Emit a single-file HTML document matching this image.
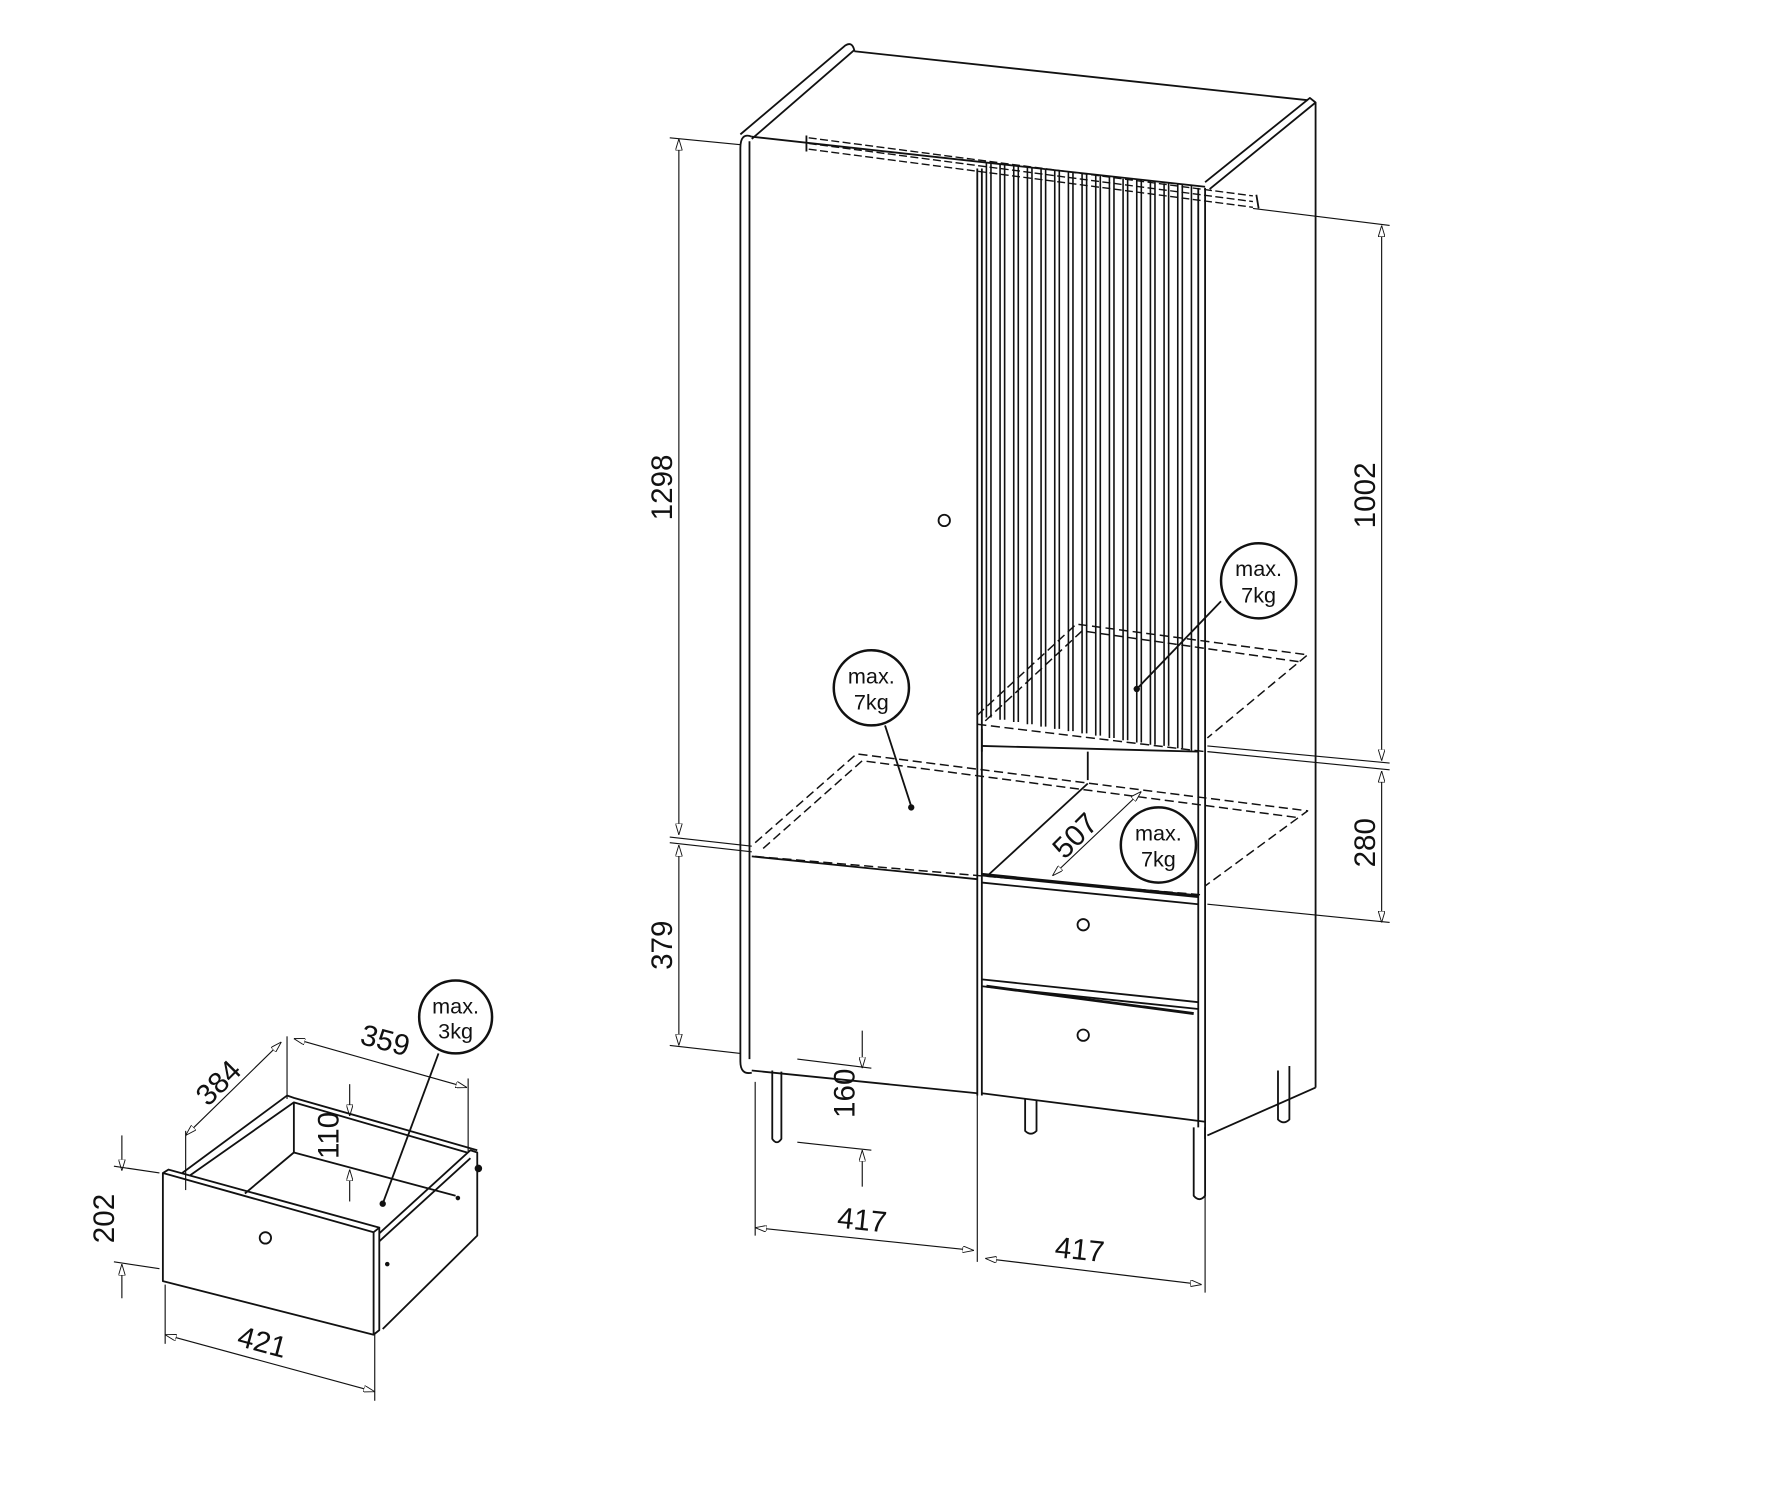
<!DOCTYPE html>
<html><head><meta charset="utf-8"><style>
html,body{margin:0;padding:0;background:#fff}
svg{display:block}
text{font-family:"Liberation Sans",sans-serif;fill:#111}
</style></head><body>
<svg width="1786" height="1493" viewBox="0 0 1568 1311" preserveAspectRatio="none" xmlns="http://www.w3.org/2000/svg">
<defs>
<marker id="a" viewBox="0 0 10 6" refX="10" refY="3" markerWidth="10" markerHeight="6" orient="auto-start-reverse" markerUnits="userSpaceOnUse"><path d="M0,0 L10,3 L0,6 Z" fill="#fff" stroke="#111" stroke-width="0.8"/></marker>
</defs>
<g stroke="#111" fill="none" stroke-width="1.6" stroke-linejoin="round">
<!-- top slab -->
<path d="M650,118 L742,40 Q748,36 750,44 L660,122"/>
<line x1="750" y1="45" x2="1148" y2="88"/>
<path d="M1058,160 L1150,86 L1155,90 L1062,166"/>
<line x1="1155" y1="90" x2="1155" y2="955"/>
<line x1="1155" y1="955" x2="1060" y2="997"/>
<!-- left side rounded panel -->
<path d="M660,120 Q650,116 650,130 L650,932 Q650,944 660,942"/>
<path d="M658,124 L658,930"/>
<!-- front -->
<line x1="660" y1="120" x2="1058" y2="164"/>
<line x1="858" y1="148" x2="858" y2="962"/>
<line x1="862" y1="148" x2="862" y2="962"/>
<line x1="1052" y1="165" x2="1052" y2="660"/>
<line x1="1058" y1="165" x2="1058" y2="1000"/>
<line x1="1052" y1="660" x2="1052" y2="990"/>
<line x1="660" y1="940" x2="858" y2="960"/>
<line x1="660" y1="752" x2="858" y2="772"/>
<line x1="862" y1="960" x2="1058" y2="985"/>
<line x1="862" y1="640" x2="862" y2="660"/>
<line x1="862" y1="655" x2="1052" y2="660"/>
<line x1="955" y1="660" x2="955" y2="685"/>
<!-- drawers -->
<line x1="862" y1="768" x2="1052" y2="787" stroke-width="3"/>
<line x1="862" y1="775" x2="1052" y2="794"/>
<line x1="862" y1="860" x2="1052" y2="880"/>
<line x1="862" y1="866" x2="1052" y2="886"/>
<line x1="866" y1="866" x2="1048" y2="890" stroke-width="2.5"/>
<!-- handles -->
<circle cx="829" cy="457" r="5"/><circle cx="951" cy="812" r="5"/><circle cx="951" cy="909" r="5"/><circle cx="233" cy="1087" r="5"/>
<!-- legs -->
<path d="M678,940 L678,1000 Q682,1006 686,1000 L686,941"/>
<path d="M900,965 L900,993 Q905,998 910,993 L910,966"/>
<path d="M1048,990 L1048,1050 Q1053,1056 1058,1050 L1058,990"/>
<path d="M1122,940 L1122,983 Q1127,988 1132,983 L1132,936"/>
<!-- rail -->
<g stroke-dasharray="7,3" stroke-width="1.2">
<line x1="710" y1="121" x2="1100" y2="172"/>
<line x1="710" y1="126" x2="1100" y2="177"/>
<line x1="710" y1="131" x2="1100" y2="182"/>
</g>
<path d="M708,119 L708,133 M1103,171 L1105,183"/>
<!-- slats -->
<g stroke-width="1.4">
<path d="M866,143V630M870,143V630M878,144V632M882,144V632M890,146V634M894,146V634M902,147V636M906,147V636M914,148V638M918,148V638M926,150V640M930,150V640M938,151V642M942,151V642M950,152V644M954,152V644M962,154V646M966,154V646M974,155V648M978,155V648M986,157V650M990,157V650M998,158V652M1002,158V652M1010,159V654M1014,159V654M1022,161V655M1026,161V655M1034,162V657M1038,162V657M1046,163V659"/>
</g>
<!-- shelves dashed -->
<g stroke-dasharray="8,4" stroke-width="1.3">
<path d="M663,740 L752,662 L1148,712 L1058,778"/>
<path d="M670,745 L757,668 L1140,718"/>
<line x1="663" y1="752" x2="1058" y2="786"/>
<path d="M858,628 L945,548 L1148,575 L1060,648"/>
<path d="M865,633 L950,554 L1140,581"/>
<line x1="858" y1="636" x2="1058" y2="660"/>
</g>
<!-- 507 -->
<line x1="868" y1="768" x2="955" y2="688"/>
<line x1="924" y1="769" x2="1002" y2="695" stroke-width="1" marker-start="url(#a)" marker-end="url(#a)"/>
<!-- dimension lines -->
<g stroke-width="1">
<line x1="596" y1="122" x2="596" y2="733" marker-start="url(#a)" marker-end="url(#a)"/>
<line x1="588" y1="121" x2="650" y2="127"/>
<line x1="588" y1="735" x2="660" y2="743"/>
<line x1="588" y1="740" x2="660" y2="748"/>
<line x1="596" y1="742" x2="596" y2="918" marker-start="url(#a)" marker-end="url(#a)"/>
<line x1="588" y1="918" x2="650" y2="925"/>
<line x1="1213" y1="198" x2="1213" y2="668" marker-start="url(#a)" marker-end="url(#a)"/>
<line x1="1100" y1="183" x2="1220" y2="198"/>
<line x1="1060" y1="655" x2="1220" y2="670"/>
<line x1="1060" y1="660" x2="1220" y2="676"/>
<line x1="1213" y1="677" x2="1213" y2="810" marker-start="url(#a)" marker-end="url(#a)"/>
<line x1="1060" y1="794" x2="1220" y2="810"/>
<line x1="757" y1="905" x2="757" y2="938" marker-end="url(#a)"/>
<line x1="757" y1="1010" x2="757" y2="1042" marker-start="url(#a)"/>
<line x1="700" y1="930" x2="765" y2="938"/>
<line x1="700" y1="1003" x2="765" y2="1010"/>
<line x1="663" y1="950" x2="663" y2="1085"/>
<line x1="858" y1="962" x2="858" y2="1108"/>
<line x1="663" y1="1078" x2="855" y2="1098" marker-start="url(#a)" marker-end="url(#a)"/>
<line x1="865" y1="1105" x2="1055" y2="1128" marker-start="url(#a)" marker-end="url(#a)"/>
<line x1="1058" y1="1000" x2="1058" y2="1135"/>
<!-- drawer dims -->
<line x1="107" y1="997" x2="107" y2="1028" marker-end="url(#a)"/>
<line x1="107" y1="1110" x2="107" y2="1140" marker-start="url(#a)"/>
<line x1="100" y1="1024" x2="140" y2="1030"/>
<line x1="100" y1="1108" x2="140" y2="1114"/>
<line x1="145" y1="1128" x2="145" y2="1180"/>
<line x1="329" y1="1170" x2="329" y2="1230"/>
<line x1="145" y1="1172" x2="329" y2="1222" marker-start="url(#a)" marker-end="url(#a)"/>
<line x1="163" y1="997" x2="247" y2="915" marker-start="url(#a)" marker-end="url(#a)"/>
<line x1="163" y1="993" x2="163" y2="1045"/>
<line x1="252" y1="910" x2="252" y2="965"/>
<line x1="258" y1="912" x2="410" y2="955" marker-start="url(#a)" marker-end="url(#a)"/>
<line x1="411" y1="947" x2="411" y2="1012"/>
<line x1="307" y1="952" x2="307" y2="980" marker-end="url(#a)"/>
<line x1="307" y1="1027" x2="307" y2="1055" marker-start="url(#a)"/>
</g>
<!-- drawer -->
<path d="M143,1030 L148,1027 L333,1078 L328,1082 Z"/>
<path d="M143,1030 L143,1125 L328,1172 L328,1082"/>
<path d="M328,1172 L333,1168 L333,1078"/>
<path d="M333,1083 L413,1010 L419,1012 L419,1085 L336,1167"/>
<path d="M333,1090 L413,1017"/>
<path d="M160,1030 L252,962 L258,964 L419,1010"/>
<path d="M167,1032 L258,968 L410,1012"/>
<line x1="258" y1="968" x2="258" y2="1012"/>
<path d="M258,1012 L215,1048 M258,1012 L400,1050"/>
<circle cx="420" cy="1026" r="2.5" fill="#111"/>
<circle cx="402" cy="1052" r="1.2" fill="#111"/><circle cx="340" cy="1110" r="1.2" fill="#111"/>
<!-- circles -->
<circle cx="765" cy="604" r="33" stroke-width="2.2"/>
<circle cx="1105" cy="510" r="33" stroke-width="2.2"/>
<circle cx="1017" cy="742" r="33" stroke-width="2.2"/>
<circle cx="400" cy="893" r="32" stroke-width="2.2"/>
<line x1="777" y1="637" x2="800" y2="708"/><circle cx="800" cy="709" r="2" fill="#111"/>
<line x1="1072" y1="528" x2="998" y2="605"/><circle cx="998" cy="605" r="2" fill="#111"/>
<line x1="385" y1="925" x2="336" y2="1057"/><circle cx="336" cy="1057" r="2" fill="#111"/>
</g>
<g font-size="26">
<text transform="translate(590,428) rotate(-90)" text-anchor="middle">1298</text>
<text transform="translate(590,830) rotate(-90)" text-anchor="middle">379</text>
<text transform="translate(1207,435) rotate(-90)" text-anchor="middle">1002</text>
<text transform="translate(1207,740) rotate(-90)" text-anchor="middle">280</text>
<text transform="translate(750,960) rotate(-90)" text-anchor="middle">160</text>
<text transform="translate(756,1080) rotate(6)" text-anchor="middle">417</text>
<text transform="translate(947,1106) rotate(6)" text-anchor="middle">417</text>
<text transform="translate(950,740) rotate(-45)" text-anchor="middle">507</text>
<text transform="translate(100,1070) rotate(-90)" text-anchor="middle">202</text>
<text transform="translate(228,1187) rotate(15)" text-anchor="middle">421</text>
<text transform="translate(198,957) rotate(-45)" text-anchor="middle">384</text>
<text transform="translate(336,922) rotate(15)" text-anchor="middle">359</text>
<text transform="translate(297,997) rotate(-90)" text-anchor="middle">110</text>
</g>
<g font-size="19" text-anchor="middle">
<text x="765" y="600">max.</text><text x="765" y="623">7kg</text>
<text x="1105" y="506">max.</text><text x="1105" y="529">7kg</text>
<text x="1017" y="738">max.</text><text x="1017" y="761">7kg</text>
<text x="400" y="890">max.</text><text x="400" y="912">3kg</text>
</g>
</svg>
</body></html>
